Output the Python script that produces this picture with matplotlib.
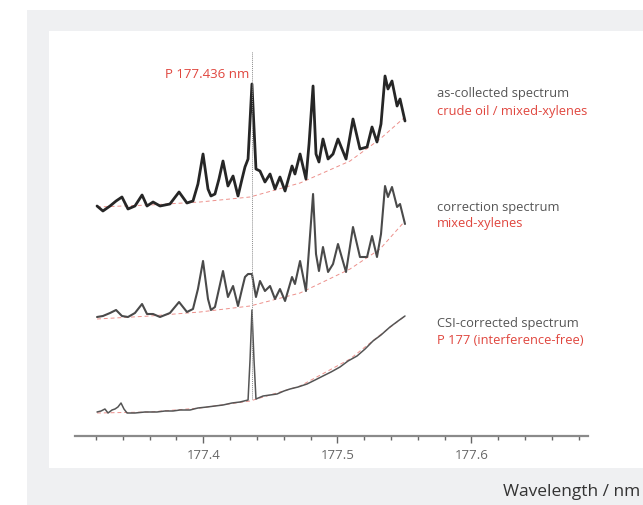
import matplotlib
matplotlib.use('Agg')
import matplotlib.pyplot as plt
from matplotlib.patches import Rectangle

plt.rcParams['font.family'] = ['Open Sans', 'DejaVu Sans']

# wavelengths (nm) for the as-collected and correction spectra
wl_a = [177.3207, 177.3251, 177.3304, 177.3349, 177.3393, 177.3438, 177.3490, 177.3543, 177.3580, 177.3625,
        177.3677, 177.3751, 177.3819, 177.3878, 177.3923, 177.3960, 177.3998, 177.4035, 177.4057, 177.4087,
        177.4117, 177.4147, 177.4184, 177.4222, 177.4259, 177.4289, 177.4311, 177.4334, 177.4363, 177.4393,
        177.4423, 177.4460, 177.4498, 177.4535, 177.4572, 177.4610, 177.4662, 177.4684, 177.4722, 177.4766,
        177.4789, 177.4819, 177.4841, 177.4863, 177.4893, 177.4931, 177.4968, 177.5005, 177.5065, 177.5117,
        177.5169, 177.5222, 177.5259, 177.5296, 177.5326, 177.5356, 177.5378, 177.5408, 177.5446, 177.5468,
        177.5505]
# as-collected spectrum, crude oil / mixed-xylenes (a.u.)
collected = [1, -4, 1, 6, 10, -2, 1, 12, 1, 5,
             1, 3, 15, 4, 6, 23, 53, 18, 11, 13,
             28, 46, 21, 31, 11, 28, 40, 48, 123, 38,
             36, 25, 33, 18, 30, 16, 41, 33, 53, 28,
             63, 121, 53, 45, 68, 48, 53, 68, 48, 88,
             58, 60, 80, 65, 83, 131, 118, 126, 101, 108,
             86]
# correction spectrum, mixed-xylenes (a.u.)
correction = [0, 1, 4, 7, 1, 0, 4, 13, 3, 3,
              0, 4, 15, 5, 8, 28, 56, 18, 7, 10,
              28, 46, 20, 31, 11, 28, 40, 43, 43, 20,
              36, 26, 31, 18, 28, 16, 40, 33, 56, 26,
              68, 123, 63, 46, 70, 45, 53, 73, 45, 90,
              60, 60, 81, 60, 83, 131, 120, 130, 110, 113,
              93]

# CSI-corrected spectrum
wl_c = [177.3207, 177.3237, 177.3266, 177.3289, 177.3319, 177.3341, 177.3363, 177.3386, 177.3408, 177.3431,
        177.3490, 177.3565, 177.3654, 177.3714, 177.3774, 177.3826, 177.3901, 177.3960, 177.4028, 177.4087,
        177.4147, 177.4214, 177.4274, 177.4334, 177.4349, 177.4363, 177.4378, 177.4393, 177.4446, 177.4498,
        177.4550, 177.4602, 177.4647, 177.4707, 177.4774, 177.4834, 177.4893, 177.4953, 177.5020, 177.5080,
        177.5147, 177.5207, 177.5266, 177.5326, 177.5393, 177.5453, 177.5505]
corrected = [0, 1, 3, -1, 2, 3, 5, 9, 3, -1,
             -1, 0, 0, 1, 1, 2, 2, 4, 5, 6,
             7, 9, 10, 12, 53, 102, 53, 13, 16, 17,
             18, 21, 23, 25, 28, 32, 36, 40, 45, 51,
             56, 63, 71, 77, 85, 91, 96]

# background curves (red dashed)
wl_base = [177.3207, 177.3602, 177.3975, 177.4349, 177.4722, 177.5095, 177.5319, 177.5505]
base_collected = [0, 2, 5, 10, 24, 46, 68, 90]
base_correction = [-2, 1, 5, 11, 24, 48, 68, 96]
base_corrected = [-1, 0, 4, 11, 26, 53, 77, 96]

p_line = 177.436
major_ticks = [177.4, 177.5, 177.6]
major_labels = ['177.4', '177.5', '177.6']
minor_ticks = [177.32, 177.34, 177.36, 177.38, 177.42, 177.44, 177.46, 177.48,
               177.52, 177.54, 177.56, 177.58, 177.62, 177.64, 177.66, 177.68]

red = '#e0463e'
grey_text = '#555555'

fig = plt.figure(figsize=(6.43, 5.06), dpi=100)
fig.patch.set_facecolor('white')
fig.add_artist(Rectangle((27 / 643, 0), 1, 495 / 506, transform=fig.transFigure,
                         facecolor='#eff0f2', edgecolor='none', zorder=-5))
fig.add_artist(Rectangle((49 / 643, 37 / 506), 1, 437 / 506, transform=fig.transFigure,
                         facecolor='white', edgecolor='none', zorder=-4))

ax = fig.add_axes([0, 69 / 506, 1, 405 / 506])
ax.patch.set_alpha(0)
ax.set_xlim(177.2483, 177.7281)
ax.set_ylim(0, 405)

off_a, off_b, off_c = 229, 119, 24

ax.plot(wl_base, [v + off_a for v in base_collected], color=red, lw=0.7, ls=(0, (4, 3)), alpha=0.6)
ax.plot(wl_base, [v + off_b for v in base_correction], color=red, lw=0.7, ls=(0, (4, 3)), alpha=0.6)
ax.plot(wl_base, [v + off_c for v in base_corrected], color=red, lw=0.7, ls=(0, (4, 3)), alpha=0.6)

ax.plot(wl_a, [v + off_a for v in collected], color='#262626', lw=2.0,
        solid_joinstyle='round', solid_capstyle='round')
ax.plot(wl_a, [v + off_b for v in correction], color='#4a4a4a', lw=1.5,
        solid_joinstyle='round', solid_capstyle='round')
ax.plot(wl_c, [v + off_c for v in corrected], color='#555555', lw=1.1,
        solid_joinstyle='round', solid_capstyle='round')

ax.plot([p_line, p_line], [37, 385], color='#8c8c8c', lw=0.7, ls=(0, (1, 1)))
ax.text(p_line - 0.0015, 363, 'P 177.436 nm', color=red, fontsize=9.5, ha='right', va='center')

tx = 177.5744
ax.text(tx, 344, 'as-collected spectrum', color=grey_text, fontsize=9.3, va='center')
ax.text(tx, 326, 'crude oil / mixed-xylenes', color=red, fontsize=9.3, va='center')
ax.text(tx, 230, 'correction spectrum', color=grey_text, fontsize=9.3, va='center')
ax.text(tx, 213, 'mixed-xylenes', color=red, fontsize=9.3, va='center')
ax.text(tx, 114, 'CSI-corrected spectrum', color=grey_text, fontsize=9.3, va='center')
ax.text(tx, 97, 'P 177 (interference-free)', color=red, fontsize=9.3, va='center')

for s in ['top', 'left', 'right']:
    ax.spines[s].set_visible(False)
ax.spines['bottom'].set_bounds(177.304, 177.687)
ax.spines['bottom'].set_color('#8a8a8a')
ax.spines['bottom'].set_linewidth(1.6)
ax.set_yticks([])
ax.set_xticks(major_ticks)
ax.set_xticklabels(major_labels)
ax.set_xticks(minor_ticks, minor=True)
ax.tick_params(axis='x', which='major', length=5, width=1, color='#666666', pad=4,
               labelsize=9.5, labelcolor='#666666')
ax.tick_params(axis='x', which='minor', length=3, width=1, color='#666666')

fig.text(640 / 643, 1 - 492 / 506, 'Wavelength / nm', color='#333333', fontsize=12.5,
         ha='right', va='center')

fig.savefig('out.png', dpi=100)
